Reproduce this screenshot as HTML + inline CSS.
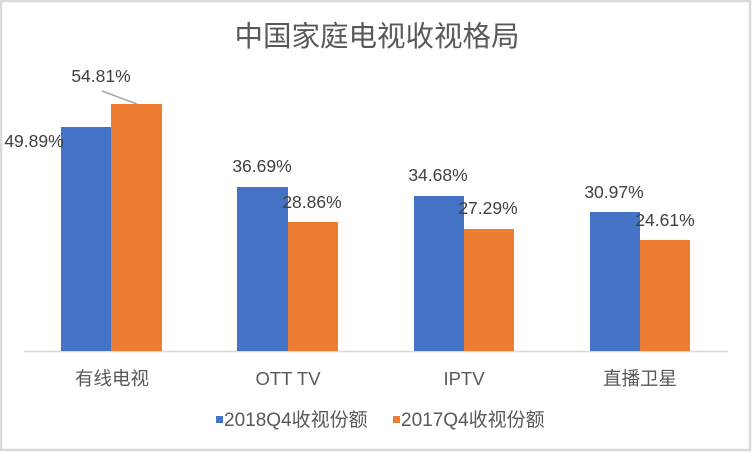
<!DOCTYPE html>
<html><head><meta charset="utf-8"><style>
body{margin:0;background:#fff}
svg{display:block}
text{font-family:"Liberation Sans","Noto Sans CJK SC",sans-serif}
</style></head><body>
<svg width="752" height="452" viewBox="0 0 752 452">
<rect x="1" y="1" width="749" height="449" fill="#fff" stroke="#d9d9d9" stroke-width="2.5"/>
<text x="377" y="46" text-anchor="middle" font-size="28.5" fill="#595959">中国家庭电视收视格局</text>
<line x1="24" y1="351.5" x2="728" y2="351.5" stroke="#d9d9d9" stroke-width="1.5"/>
<g fill="#4472c4">
<rect x="61" y="127" width="50" height="224"/>
<rect x="237" y="187" width="51" height="164"/>
<rect x="414" y="196" width="50" height="155"/>
<rect x="590" y="212" width="50" height="139"/>
</g>
<g fill="#ed7d31">
<rect x="111" y="104" width="51" height="247"/>
<rect x="288" y="222" width="50" height="129"/>
<rect x="464" y="229" width="50" height="122"/>
<rect x="640" y="240" width="50" height="111"/>
</g>
<line x1="102" y1="91" x2="137" y2="104" stroke="#a6a6a6" stroke-width="1.5"/>
<g font-size="17.5" fill="#404040" text-anchor="middle">
<text x="34" y="147">49.89%</text>
<text x="101" y="82">54.81%</text>
<text x="262" y="172">36.69%</text>
<text x="312" y="208">28.86%</text>
<text x="438" y="181">34.68%</text>
<text x="488" y="214">27.29%</text>
<text x="614" y="198">30.97%</text>
<text x="665" y="226">24.61%</text>
</g>
<g font-size="18.5" fill="#595959" text-anchor="middle">
<text x="112" y="385">有线电视</text>
<text x="288" y="385">OTT TV</text>
<text x="464" y="385">IPTV</text>
<text x="640" y="385">直播卫星</text>
</g>
<rect x="216" y="416" width="7" height="7" fill="#4472c4"/>
<text x="224" y="426" font-size="19" fill="#595959">2018Q4收视份额</text>
<rect x="393" y="416" width="7" height="7" fill="#ed7d31"/>
<text x="401" y="426" font-size="19" fill="#595959">2017Q4收视份额</text>
</svg>
</body></html>
